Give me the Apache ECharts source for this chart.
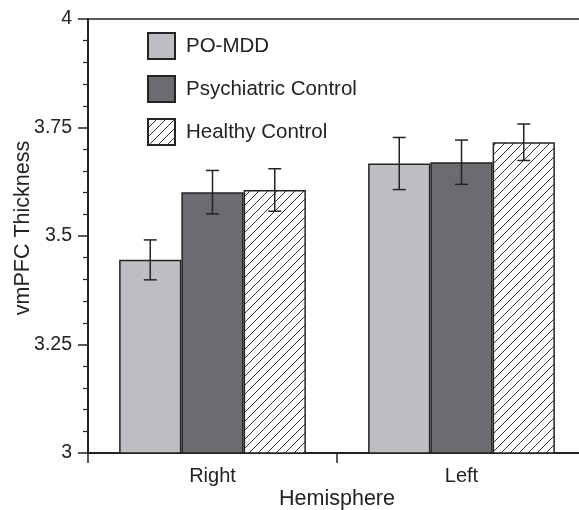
<!DOCTYPE html>
<html>
<head>
<meta charset="utf-8">
<script src="https://cdn.jsdelivr.net/npm/echarts@6/dist/echarts.min.js"></script>
<style>
  html, body { margin: 0; padding: 0; background: #ffffff; }
  #chart { width: 579px; height: 510px; }
</style>
</head>
<body>
<div id="chart"></div>
<script>
// Hemispheres on the x axis
const hemispheres = ['Right', 'Left'];

// Group names
const groups = ['PO-MDD', 'Psychiatric Control', 'Healthy Control'];

// Mean vmPFC thickness per hemisphere (Right, Left)
const poMddMean = [3.445, 3.667];
const psychMean = [3.601, 3.670];
const healthyMean = [3.606, 3.716];

// Standard error per hemisphere (Right, Left)
const poMddErr = [0.046, 0.060];
const psychErr = [0.050, 0.051];
const healthyErr = [0.049, 0.042];

// Y tick labels
const yTickLabels = ['3', '3.25', '3.5', '3.75', '4'];

const FONT = '"Liberation Sans", Arial, Helvetica, sans-serif';
const INK = '#232323';

// Diagonal hatch fill for the healthy control bars
function makeHatch() {
  const s = 9;
  const c = document.createElement('canvas');
  c.width = s; c.height = s;
  const ctx = c.getContext('2d');
  ctx.fillStyle = '#ffffff';
  ctx.fillRect(0, 0, s, s);
  ctx.strokeStyle = '#333333';
  ctx.lineWidth = 1;
  ctx.beginPath();
  ctx.moveTo(-1, s + 1); ctx.lineTo(s + 1, -1);
  ctx.moveTo(-1, 1); ctx.lineTo(1, -1);
  ctx.moveTo(s - 1, s + 1); ctx.lineTo(s + 1, s - 1);
  ctx.stroke();
  return c;
}

const fills = ['#bdbec2', '#6b6c70', { image: makeHatch(), repeat: 'repeat' }];
const means = [poMddMean, psychMean, healthyMean];
const errs = [poMddErr, psychErr, healthyErr];

const BAR_SHARE = 0.25; // each bar takes a quarter of its category band

const barSeries = groups.map((name, i) => ({
  name: name,
  type: 'bar',
  data: means[i],
  barGap: '0%',
  barCategoryGap: '25%',
  itemStyle: { color: fills[i], borderColor: INK, borderWidth: 1.5 },
  emphasis: { disabled: true },
  z: 2
}));

const errSeries = groups.map((name, i) => ({
  name: name + ' SE',
  type: 'custom',
  data: means[i].map((m, k) => [k, m, errs[i][k]]),
  encode: { x: 0, y: 1 },
  z: 5,
  silent: true,
  renderItem: function (params, api) {
    const cat = api.value(0);
    const m = api.value(1);
    const e = api.value(2);
    const band = api.size([1, 0])[0];
    const off = (i - 1) * band * BAR_SHARE;
    const top = api.coord([cat, m + e]);
    const bot = api.coord([cat, m - e]);
    const x = top[0] + off;
    const cap = 6.5;
    const style = { stroke: INK, lineWidth: 1.5, fill: null };
    return {
      type: 'group',
      children: [
        { type: 'line', shape: { x1: x, y1: top[1], x2: x, y2: bot[1] }, style: style },
        { type: 'line', shape: { x1: x - cap, y1: top[1], x2: x + cap, y2: top[1] }, style: style },
        { type: 'line', shape: { x1: x - cap, y1: bot[1], x2: x + cap, y2: bot[1] }, style: style }
      ]
    };
  }
}));

const chart = echarts.init(document.getElementById('chart'), null, { renderer: 'canvas' });

chart.setOption({
  backgroundColor: '#ffffff',
  animation: false,
  grid: {
    left: 88, top: 19, right: -7, bottom: 57,
    containLabel: false,
    outerBoundsMode: 'none',
    show: true, borderColor: INK, borderWidth: 1.5, backgroundColor: 'transparent'
  },
  legend: {
    data: groups,
    orient: 'vertical',
    left: 142, top: 27,
    itemWidth: 27, itemHeight: 26, itemGap: 15,
    icon: 'rect',
    selectedMode: false,
    textStyle: { fontFamily: FONT, fontSize: 20.5, color: INK, padding: [0, 0, 0, 6] }
  },
  xAxis: {
    type: 'category',
    data: hemispheres,
    name: 'Hemisphere',
    nameLocation: 'middle',
    nameGap: 35,
    nameMoveOverlap: false,
    nameTextStyle: { fontFamily: FONT, fontSize: 21.5, color: INK },
    axisLine: { lineStyle: { color: INK, width: 2 } },
    axisTick: { show: true, length: 10, lineStyle: { color: INK, width: 1.5 } },
    axisLabel: { fontFamily: FONT, fontSize: 20, color: INK, margin: 13 },
    splitLine: { show: false }
  },
  yAxis: {
    type: 'value',
    min: 3, max: 4, interval: 0.25,
    name: 'vmPFC Thickness',
    nameLocation: 'middle',
    nameGap: 54,
    nameMoveOverlap: false,
    nameTextStyle: { fontFamily: FONT, fontSize: 21.5, color: INK, padding: [0, 0, 0, 16] },
    axisLine: { show: true, lineStyle: { color: INK, width: 2 } },
    axisTick: { show: true, length: 10, lineStyle: { color: INK, width: 1.5 } },
    minorTick: { show: true, splitNumber: 5, length: 5, lineStyle: { color: INK, width: 1.2 } },
    axisLabel: {
      fontFamily: FONT, fontSize: 19.5, color: INK, margin: 16,
      formatter: function (v) {
        const idx = Math.round((v - 3) / 0.25);
        return yTickLabels[idx] !== undefined ? yTickLabels[idx] : '';
      }
    },
    splitLine: { show: false }
  },
  series: barSeries.concat(errSeries)
});
</script>
</body>
</html>
